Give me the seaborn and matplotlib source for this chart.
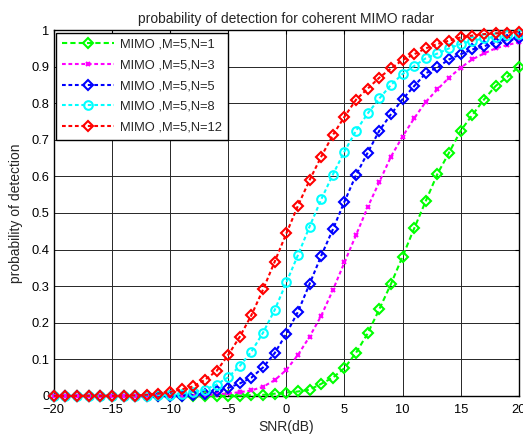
import matplotlib
matplotlib.use('Agg')
from matplotlib import pyplot as plt
from matplotlib.ticker import FormatStrFormatter
import numpy as np
import pandas as pd
import seaborn as sns

snr_db = np.arange(-20, 21)

pd_n1 = [0, 0, 0, 0, 0, 0, 0, 0, 0, 0, 0, 0, 0, 0, 0,
         0.001, 0.001, 0.002, 0.003, 0.006, 0.009,
         0.012, 0.017, 0.033, 0.050, 0.076, 0.118, 0.171, 0.237, 0.306, 0.381,
         0.458, 0.533, 0.607, 0.665, 0.725, 0.768, 0.810, 0.847, 0.872, 0.900]
pd_n3 = [0, 0, 0, 0, 0, 0, 0, 0, 0, 0, 0,
         0.001, 0.001, 0.002, 0.004, 0.007, 0.010, 0.015, 0.025, 0.043, 0.071,
         0.112, 0.162, 0.219, 0.289, 0.365, 0.440, 0.516, 0.585, 0.654, 0.709,
         0.759, 0.804, 0.838, 0.870, 0.897, 0.920, 0.936, 0.950, 0.959, 0.967]
pd_n5 = [0, 0, 0, 0, 0, 0, 0, 0, 0, 0,
         0.001, 0.001, 0.002, 0.005, 0.012, 0.022, 0.034, 0.050, 0.078, 0.117, 0.170,
         0.230, 0.306, 0.383, 0.455, 0.531, 0.604, 0.665, 0.725, 0.770, 0.811,
         0.847, 0.882, 0.898, 0.920, 0.934, 0.947, 0.956, 0.965, 0.973, 0.977]
pd_n8 = [0, 0, 0, 0, 0, 0, 0, 0,
         0.001, 0.002, 0.003, 0.006, 0.011, 0.017, 0.031, 0.051, 0.082, 0.121, 0.173, 0.235, 0.310,
         0.385, 0.463, 0.537, 0.605, 0.668, 0.725, 0.772, 0.813, 0.850, 0.880,
         0.902, 0.923, 0.936, 0.950, 0.962, 0.971, 0.977, 0.982, 0.986, 0.989]
pd_n12 = [0, 0, 0, 0, 0, 0, 0, 0.001, 0.003,
          0.006, 0.011, 0.018, 0.026, 0.044, 0.068, 0.112, 0.162, 0.221, 0.291, 0.367, 0.444,
          0.520, 0.590, 0.654, 0.713, 0.763, 0.810, 0.840, 0.870, 0.895, 0.918,
          0.934, 0.950, 0.962, 0.971, 0.980, 0.985, 0.989, 0.991, 0.993, 0.996]

labels = ['MIMO ,M=5,N=1', 'MIMO ,M=5,N=3', 'MIMO ,M=5,N=5', 'MIMO ,M=5,N=8', 'MIMO ,M=5,N=12']
series = [pd_n1, pd_n3, pd_n5, pd_n8, pd_n12]

# matlab-ish colour / marker / line style per curve
STYLES = [
    dict(color='#00ff00', marker='D', ms=5.4, linestyle=(0, (2.5, 1.5))),
    dict(color='#ff00ff', marker='x', ms=3.5, linestyle=(0, (1.8, 1.3))),
    dict(color='#0000ff', marker='D', ms=5.4, linestyle=(0, (1.8, 1.3))),
    dict(color='#00ffff', marker='o', ms=6.2, linestyle=(0, (1.8, 1.3))),
    dict(color='#ff0000', marker='D', ms=5.4, linestyle=(0, (1.8, 1.3))),
]

sns.set_style('white')
plt.rcParams['font.family'] = ['Liberation Sans', 'DejaVu Sans']

fig = plt.figure(figsize=(5.23, 4.36), dpi=100)
ax = fig.add_axes([0.103, 0.092, 0.889, 0.839])

for label, vals, style in zip(labels, series, STYLES):
    df = pd.DataFrame({'snr': snr_db, 'pd': vals})
    sns.lineplot(data=df, x='snr', y='pd', ax=ax, label=label, color=style['color'],
                 marker=style['marker'], linestyle=style['linestyle'], linewidth=1.5,
                 markersize=style['ms'], markerfacecolor='none', markeredgecolor=style['color'],
                 markeredgewidth=1.5, clip_on=False, zorder=3)

ax.set_xlim(-20, 20)
ax.set_ylim(0, 1)
ax.set_xticks(np.arange(-20, 21, 5))
ax.set_yticks(np.arange(0, 1.01, 0.1))
ax.yaxis.set_major_formatter(FormatStrFormatter('%g'))
ax.grid(True, color='0.15', linewidth=0.7)
ax.tick_params(direction='in', top=True, right=True, length=3, width=0.8,
               labelsize=9.3, colors='k')
ax.tick_params(axis='x', pad=6)
ax.tick_params(axis='y', pad=3)
for spine in ax.spines.values():
    spine.set_color('k')
    spine.set_linewidth(1.0)

ax.set_xlabel('SNR(dB)', fontsize=10, labelpad=3)
ax.set_ylabel('probability of detection', fontsize=10, labelpad=6)
ax.set_title('probability of detection for coherent MIMO radar', fontsize=10, pad=5)

leg = ax.legend(loc='upper left', fontsize=9.3, handlelength=4.0, borderpad=0.45,
                labelspacing=0.68, handletextpad=0.5, borderaxespad=0.2,
                fancybox=False, framealpha=1, edgecolor='k')
leg.get_frame().set_linewidth(1.0)

fig.savefig('out.png', dpi=100)
